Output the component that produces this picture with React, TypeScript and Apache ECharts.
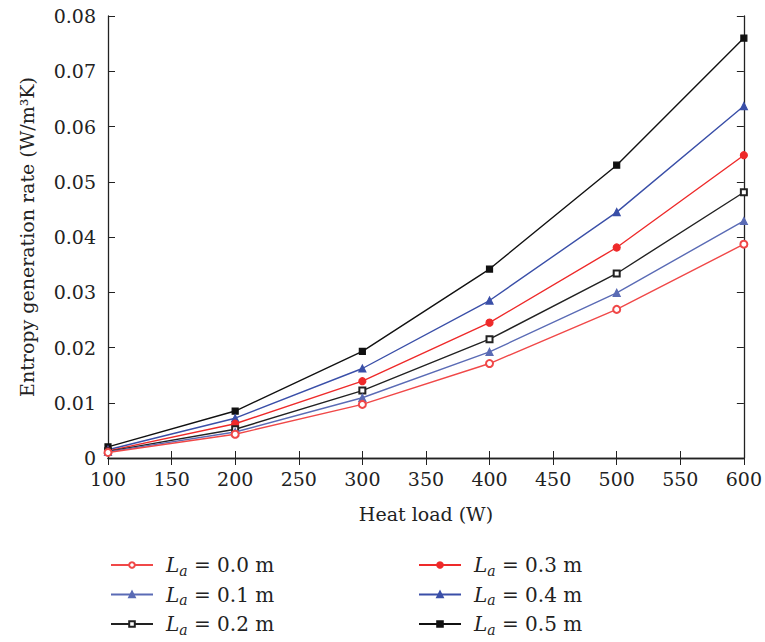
import React, { useEffect, useRef } from "react";
import * as echarts from "echarts";

const heatLoad = [100, 200, 300, 400, 500, 600];
const la00 = [0.001, 0.0043, 0.0097, 0.0171, 0.0269, 0.0387];
const la01 = [0.0011, 0.0047, 0.0109, 0.0192, 0.0299, 0.0429];
const la02 = [0.0012, 0.0052, 0.0122, 0.0215, 0.0334, 0.0481];
const la03 = [0.0013, 0.0062, 0.0139, 0.0245, 0.0381, 0.0548];
const la04 = [0.0015, 0.0072, 0.0162, 0.0285, 0.0445, 0.0637];
const la05 = [0.002, 0.0085, 0.0193, 0.0342, 0.053, 0.076];
const labels = ["0.0", "0.1", "0.2", "0.3", "0.4", "0.5"];

const FONT = "DejaVu Serif";

export default function App() {
  const ref = useRef<HTMLDivElement>(null);
  useEffect(() => {
    const chart = echarts.init(ref.current!, null, { renderer: "svg" });
    const all = [la00, la01, la02, la03, la04, la05];
    const colors = ["#f04848", "#5a6bb5", "#222222", "#ee2a2a", "#3a4fa8", "#111111"];
    const symbols = ["emptyCircle", "triangle", "emptyRect", "circle", "triangle", "rect"];
    const names = labels.map((l) => "La = " + l + " m");
    const series = all.map((vals, i) => ({
      name: names[i],
      type: "line",
      data: vals.map((v, j) => [heatLoad[j], v]),
      symbol: symbols[i],
      symbolSize: i === 2 || i === 5 ? 6 : 7,
      showSymbol: true,
      lineStyle: { color: colors[i], width: 1.4 },
      itemStyle: { color: colors[i], borderColor: colors[i], borderWidth: 1.2 },
      z: 10 - i,
    }));
    const rich = {
      i: { fontFamily: FONT, fontStyle: "italic", fontSize: 20, color: "#222" },
      s: { fontFamily: FONT, fontStyle: "italic", fontSize: 14, color: "#222", padding: [11, 0, 0, 0] },
      t: { fontFamily: FONT, fontSize: 20, color: "#222" },
    };
    const fmt = (name: string) => {
      const v = name.replace("La = ", "").replace(" m", "");
      return "{i|L}{s|a}{t| = " + v + " m}";
    };
    const legendBase = {
      orient: "vertical",
      itemWidth: 42,
      itemHeight: 7,
      itemGap: 7,
      formatter: fmt,
      textStyle: { rich, padding: [0, 0, 0, 8] },
      selectedMode: false,
    };
    chart.setOption({
      animation: false,
      textStyle: { fontFamily: FONT },
      grid: { left: 108, top: 16, right: 21, bottom: 184, containLabel: false },
      legend: [
        { ...legendBase, left: 105, top: 550, data: names.slice(0, 3) },
        { ...legendBase, left: 413, top: 550, data: names.slice(3) },
      ],
      xAxis: [
        {
          type: "value",
          min: 100,
          max: 600,
          interval: 50,
          name: "Heat load (W)",
          nameLocation: "middle",
          nameGap: 46,
          nameTextStyle: { fontFamily: FONT, fontSize: 19, color: "#222" },
          axisLine: { lineStyle: { color: "#222", width: 1.3 } },
          axisTick: { inside: true, length: 7, lineStyle: { color: "#222" } },
          axisLabel: { fontFamily: FONT, fontSize: 19, color: "#222", margin: 13, lineHeight: 15 },
          splitLine: { show: false },
        },
        {
          type: "value",
          position: "top",
          min: 100,
          max: 600,
          interval: 50,
          axisLine: { lineStyle: { color: "#222", width: 1.3 } },
          axisTick: { inside: true, length: 7, lineStyle: { color: "#222" } },
          axisLabel: { show: false },
          splitLine: { show: false },
        },
      ],
      yAxis: [
        {
          type: "value",
          min: 0,
          max: 0.08,
          interval: 0.01,
          name: "Entropy generation rate (W/m³K)",
          nameLocation: "middle",
          nameGap: 72,
          nameTextStyle: { fontFamily: FONT, fontSize: 19, color: "#222" },
          axisLine: { show: true, lineStyle: { color: "#222", width: 1.3 } },
          axisTick: { show: true, inside: true, length: 7, lineStyle: { color: "#222" } },
          axisLabel: {
            fontFamily: FONT,
            fontSize: 19,
            color: "#222",
            margin: 12,
            lineHeight: 15,
            formatter: (v: number) => (v === 0 ? "0" : v.toFixed(2)),
          },
          splitLine: { show: false },
        },
        {
          type: "value",
          position: "right",
          min: 0,
          max: 0.08,
          interval: 0.01,
          axisLine: { show: true, lineStyle: { color: "#222", width: 1.3 } },
          axisTick: { show: true, inside: true, length: 7, lineStyle: { color: "#222" } },
          axisLabel: { show: false },
          splitLine: { show: false },
        },
      ],
      series,
    });
    return () => chart.dispose();
  }, []);
  return <div ref={ref} style={{ width: 765, height: 642, position: "absolute", left: 0, top: 0 }} />;
}
